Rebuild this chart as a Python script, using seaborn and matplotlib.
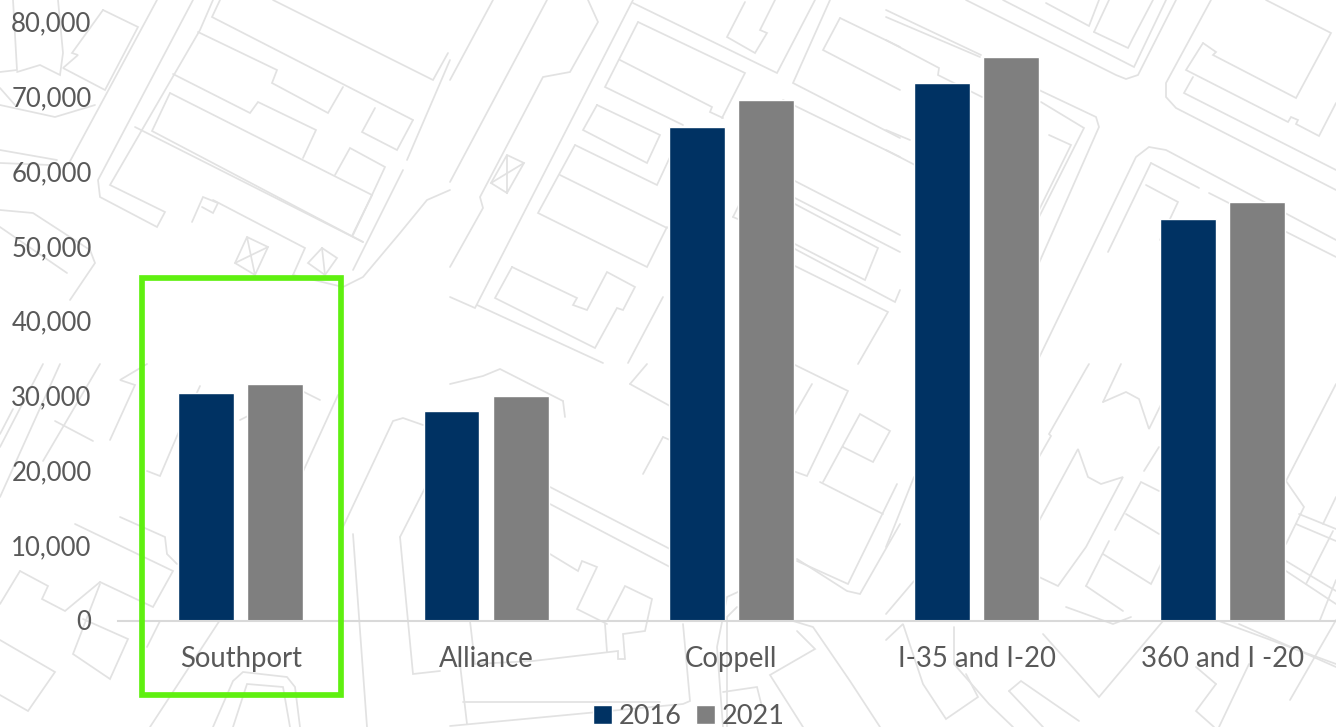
import pandas as pd
import matplotlib
matplotlib.use("Agg")
import matplotlib.pyplot as plt
from matplotlib.patches import Rectangle
import seaborn as sns

# values
locations = ["Southport", "Alliance", "Coppell", "I-35 and I-20", "360 and I -20"]
values_2016 = [30300, 27900, 65800, 71700, 53600]
values_2021 = [31500, 29900, 69400, 75200, 55800]
y_ticks = [0, 10000, 20000, 30000, 40000, 50000, 60000, 70000, 80000]

NAVY = "#003263"
GREY = "#7f7f7f"
TEXT = "#595959"
MAP_LINE = "#e2e2e2"
W, H = 1336, 727

# faint street map behind the chart, in image pixels
MAP_PATHS = [
    [(13,0),(17,70),(0,72)], [(58,0),(63,53),(60,75),(40,65),(17,72)],
    [(103,10),(138,27),(105,90),(63,68),(78,55),(72,53),(103,10)],
    [(157,0),(68,165)], [(193,0),(98,180),(100,197),(157,227),(165,212),(110,185),(200,30),(213,0)],
    [(0,150),(57,160)], [(0,163),(50,165)], [(0,210),(33,213),(90,250),(95,263),(70,300)], [(0,227),(67,273)],
    [(0,105),(55,117),(95,105)], [(0,88),(15,105)],
    [(220,0),(212,17),(413,120)], [(273,0),(433,80),(448,53)],
    [(198,32),(277,70),(272,83),(328,113),(343,87)], [(173,74),(250,113),(258,102),(316,130),(303,158)],
    [(170,93),(152,131),(363,242)], [(170,93),(372,195),(352,236)],
    [(372,195),(353,235)], [(413,120),(397,150),(362,132),(375,108)], [(335,175),(350,148),(385,167),(372,195)],
    [(135,127),(363,242)], [(213,200),(305,248),(293,275)],
    [(192,222),(203,197),(218,203),(213,213),(202,207)],
    [(247,237),(268,247),(255,275),(235,263),(247,237),(255,275)], [(235,263),(268,247)],
    [(322,248),(337,258),(325,275),(308,263),(322,248)], [(322,248),(325,275)],
    [(293,275),(343,287),(363,277),(400,233),(427,200),(450,190)], [(450,60),(407,160)], [(403,170),(353,270)],
    [(547,0),(450,182)], [(493,0),(450,80)],
    [(588,0),(598,22),(570,72),(543,77),(480,197),(483,208),(450,267)],
    [(633,0),(475,308),(450,297)], [(633,3),(777,73),(815,0)], [(638,22),(745,73),(722,118)],
    [(638,22),(605,87),(683,125)], [(620,60),(712,107),(710,112),(723,118)],
    [(597,105),(660,135),(647,163),(583,130),(597,105)], [(575,145),(657,185),(670,157)],
    [(575,145),(538,213),(647,267),(667,227)], [(560,175),(667,228)],
    [(512,267),(495,298),(595,348),(617,308),(623,310),(635,287),(607,272),(587,310),(573,305),(577,298),(512,267)],
    [(477,305),(603,363)], [(507,155),(524,163),(507,193),(491,183),(507,155),(507,193)], [(491,183),(524,163)],
    [(663,297),(628,363)], [(830,0),(793,83),(900,138)], [(840,18),(823,50),(900,90)], [(840,18),(900,47)],
    [(783,100),(900,157)], [(793,180),(900,235)], [(793,197),(900,252)],
    [(793,203),(878,248),(865,280),(793,243)], [(793,248),(895,302),(900,290)],
    [(793,265),(888,312),(858,364)], [(733,217),(740,203)], [(733,217),(745,222)],
    [(745,2),(727,37),(755,53),(767,33),(760,30),(775,0)],
    [(966,0),(1116,75),(1126,79),(1138,75),(1176,0)], [(1003,0),(1134,67),(1166,0)],
    [(1094,32),(1128,48),(1133,38),(1153,0)], [(1109,0),(1094,32)], [(1046,3),(1089,26),(1099,0)],
    [(1211,0),(1166,83),(1166,97),(1176,108),(1336,190)],
    [(1266,0),(1331,33),(1296,98),(1213,55),(1216,52),(1203,43)],
    [(1203,43),(1186,70),(1288,122),(1291,117),(1298,120),(1296,124),(1319,136),(1336,103)],
    [(1193,77),(1184,93),(1336,170)],
    [(1036,364),(1136,157),(1149,147),(1166,150),(1336,240)], [(1151,163),(1199,188)], [(1209,193),(1336,257)],
    [(1151,163),(1108,252)], [(1146,185),(1178,202),(1160,240)],
    [(886,10),(981,55)], [(886,17),(980,57)], [(886,40),(939,68),(938,75),(982,97)],
    [(1039,90),(1096,117),(1099,127),(1039,263)], [(1041,102),(1084,128),(1039,217)],
    [(1049,135),(1071,145),(1039,210)], [(886,130),(910,140)], [(886,150),(915,165)],
    [(13,409),(0,434)], [(55,421),(93,441)], [(60,364),(0,497)], [(43,364),(0,447)], [(100,364),(43,461)],
    [(75,524),(173,571),(153,607),(100,582)], [(20,571),(0,604)],
    [(20,571),(48,586),(42,599),(65,611),(100,582)], [(0,640),(55,672),(28,711),(0,695)],
    [(100,584),(73,654),(110,679),(128,639),(83,619)], [(120,517),(165,537),(167,554),(177,564)],
    [(147,647),(160,621)], [(150,727),(220,620)],
    [(213,727),(233,681),(243,672),(287,677),(295,687),(300,727)], [(233,727),(247,684),(283,687),(290,727)],
    [(147,471),(160,476),(177,436),(200,386)], [(147,364),(120,380),(135,385),(110,440)],
    [(320,400),(300,390),(240,420)], [(338,395),(290,500)],
    [(353,534),(367,727)], [(343,527),(393,421),(403,418),(423,425)], [(400,537),(427,484)],
    [(400,537),(413,674),(440,671)], [(550,487),(670,549)], [(550,504),(670,567)],
    [(550,554),(578,571),(582,561),(597,567),(577,609),(607,624)],
    [(607,621),(625,586),(652,599),(645,631),(623,634),(625,659),(618,659),(618,651),(533,661),(475,664)],
    [(605,624),(607,652)], [(470,621),(475,664)], [(460,664),(467,724)],
    [(683,624),(690,701),(683,704),(450,726)], [(463,702),(660,702)],
    [(740,591),(727,597),(717,647),(723,727)], [(737,607),(727,617),(727,727)],
    [(793,621),(813,627),(850,681),(880,727)], [(797,631),(815,649),(770,675),(803,727)],
    [(723,692),(757,687),(762,707)], [(797,559),(847,591),(860,594),(900,524)], [(797,561),(848,584),(897,484)],
    [(820,482),(883,514)], [(823,482),(860,414),(890,431),(873,462),(843,447)],
    [(793,364),(848,391),(807,476),(793,471)], [(812,384),(793,417)], [(663,437),(643,474)], [(663,437),(670,440)],
    [(630,384),(670,406)], [(630,384),(647,364)], [(563,401),(565,417)], [(563,401),(500,369),(483,376),(450,384)],
    [(1103,402),(1126,392),(1139,399),(1149,429),(1181,364)], [(1103,402),(1121,364)],
    [(1039,457),(1051,436),(1049,434),(1086,369),(1089,364)],
    [(1039,521),(1078,449),(1088,477),(1101,484),(1123,477),(1086,547),(1058,586),(1039,577)],
    [(1086,586),(1109,541)], [(1115,530),(1141,482),(1159,491)], [(1103,554),(1151,584),(1161,564)],
    [(1086,586),(1123,611)], [(1126,514),(1159,534)], [(1144,471),(1159,447)],
    [(1286,481),(1304,507),(1286,544)], [(1286,481),(1336,384)], [(1299,514),(1336,529)], [(1296,524),(1336,541)],
    [(1333,531),(1306,584)], [(1286,561),(1336,591)], [(1286,571),(1336,604)], [(1323,524),(1336,497)],
    [(886,547),(914,477)], [(886,614),(914,581)],
    [(886,640),(903,624),(923,684),(946,719),(978,697),(966,674)], [(954,627),(954,664),(989,704),(1013,727)],
    [(1009,691),(1021,681),(1079,721)], [(1009,691),(1043,727)], [(1066,607),(1113,624),(1131,617)],
    [(1043,634),(1099,697),(1163,621)], [(1219,621),(1336,664)], [(1239,624),(1336,667)],
    [(1216,684),(1196,711),(1214,727)], [(1196,667),(1216,684)], [(1249,664),(1219,727)],
    [(1320,620),(1336,580)], [(1290,700),(1336,620)],
]

sns.set_theme(style="white")
plt.rcParams["font.family"] = ["Lato", "DejaVu Sans"]

df = pd.DataFrame({
    "location": locations * 2,
    "year": ["2016"] * 5 + ["2021"] * 5,
    "value": values_2016 + values_2021,
})

fig = plt.figure(figsize=(W / 100, H / 100), dpi=100, facecolor="white")

bg = fig.add_axes([0, 0, 1, 1], zorder=0)
bg.set_xlim(0, W)
bg.set_ylim(H, 0)
bg.axis("off")
for path in MAP_PATHS:
    xs, ys = zip(*path)
    bg.plot(xs, ys, color=MAP_LINE, lw=1.25, solid_joinstyle="miter")

ax = fig.add_axes([118 / W, (H - 620.5) / H, (W - 118) / W, 599.5 / H], zorder=1)
ax.patch.set_visible(False)
sns.barplot(data=df, x="location", y="value", hue="year", palette=[NAVY, GREY],
            width=0.5626, gap=0.19, saturation=1, ax=ax)
ax.set_xlim(-0.5, 4.464)
ax.set_ylim(0, 80000)
ax.set_xlabel("")
ax.set_ylabel("")
ax.set_yticks(y_ticks)
ax.set_yticklabels([f"{v:,}" for v in y_ticks])
ax.tick_params(axis="y", length=0, pad=19, labelsize=18.5, labelcolor=TEXT)
ax.tick_params(axis="x", length=0, pad=18.5, labelsize=19.8, labelcolor=TEXT)
sns.despine(ax=ax, left=True)
ax.spines["bottom"].set_color("#d9d9d9")
ax.spines["bottom"].set_linewidth(1.5)

handles, labels = ax.get_legend_handles_labels()
ax.legend(handles, labels, loc="center", bbox_to_anchor=(689 / W, (H - 716) / H),
          bbox_transform=fig.transFigure, ncol=2, frameon=False, fontsize=19.5,
          labelcolor=TEXT, handlelength=0.7, handleheight=0.7, handletextpad=0.25,
          columnspacing=0.55, borderpad=0)

# highlight box around the first group
top = fig.add_axes([0, 0, 1, 1], zorder=2)
top.set_xlim(0, W)
top.set_ylim(H, 0)
top.axis("off")
top.add_patch(Rectangle((141.5, 278), 199.5, 416.5, fill=False, edgecolor="#5ff010", lw=4.1, joinstyle="miter"))

fig.savefig("out.png", dpi=100)
